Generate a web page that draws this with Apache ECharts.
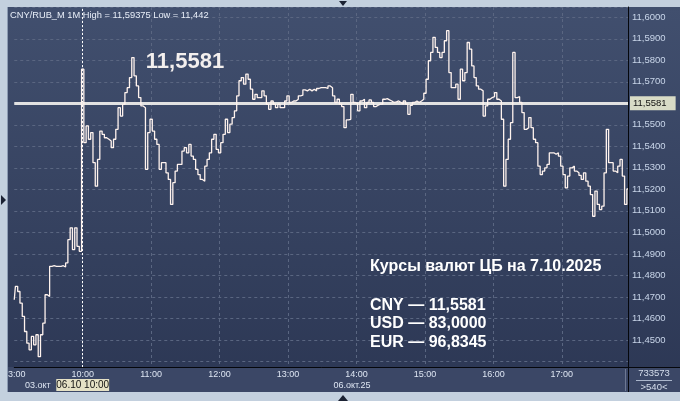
<!DOCTYPE html>
<html><head><meta charset="utf-8">
<script src="https://cdn.jsdelivr.net/npm/echarts@6/dist/echarts.min.js"></script>
<style>html,body{margin:0;padding:0;background:#c3d0de;}#c{width:680px;height:401px;}</style>
</head><body><div id="c"></div>
<script>
// ---- data ----
const hourLabels = ['23:00','10:00','11:00','12:00','13:00','14:00','15:00','16:00','17:00'];
const stepMinutes = 2;
const prices = [
11.4687,11.4749,11.4725,11.4671,11.4609,11.4539,11.4485,11.4454,11.4516,11.4477,
11.4524,11.4422,11.4524,11.4578,11.4710,11.4702,11.4842,11.4845,11.4842,11.4842,
11.4842,11.4845,11.4839,11.4858,11.4966,11.5021,11.4920,11.5021,11.4935,11.4912,
11.5759,11.5417,11.5495,11.5433,11.5464,11.5324,11.5215,11.5339,11.5471,11.5456,
11.5440,11.5433,11.5425,11.5394,11.5433,11.5479,11.5580,11.5541,11.5596,11.5650,
11.5673,11.5720,11.5813,11.5728,11.5681,11.5627,11.5588,11.5580,11.5293,11.5464,
11.5526,11.5471,11.5433,11.5409,11.5293,11.5324,11.5324,11.5277,11.5246,11.5130,
11.5231,11.5285,11.5316,11.5316,11.5378,11.5394,11.5370,11.5409,11.5355,11.5339,
11.5293,11.5269,11.5246,11.5238,11.5308,11.5339,11.5370,11.5433,11.5456,11.5386,
11.5370,11.5417,11.5456,11.5526,11.5464,11.5503,11.5534,11.5565,11.5635,11.5705,
11.5720,11.5689,11.5736,11.5712,11.5666,11.5619,11.5642,11.5627,11.5627,11.5658,
11.5635,11.5596,11.5572,11.5611,11.5596,11.5580,11.5596,11.5580,11.5580,11.5611,
11.5635,11.5604,11.5611,11.5611,11.5619,11.5635,11.5638,11.5663,11.5658,11.5666,
11.5658,11.5666,11.5658,11.5669,11.5673,11.5673,11.5673,11.5669,11.5681,11.5673,
11.5635,11.5604,11.5619,11.5596,11.5585,11.5487,11.5523,11.5526,11.5642,11.5604,
11.5600,11.5565,11.5611,11.5619,11.5580,11.5604,11.5616,11.5604,11.5585,11.5591,
11.5596,11.5596,11.5619,11.5622,11.5616,11.5611,11.5604,11.5607,11.5611,11.5604,
11.5596,11.5611,11.5596,11.5549,11.5591,11.5604,11.5611,11.5604,11.5611,11.5619,
11.5647,11.5712,11.5798,11.5837,11.5907,11.5860,11.5837,11.5813,11.5837,11.5891,
11.5938,11.5743,11.5673,11.5673,11.5689,11.5619,11.5759,11.5705,11.5743,11.5883,
11.5852,11.5774,11.5720,11.5681,11.5666,11.5658,11.5541,11.5588,11.5619,11.5627,
11.5631,11.5650,11.5619,11.5611,11.5526,11.5215,11.5339,11.5433,11.5510,11.5837,
11.5627,11.5631,11.5604,11.5557,11.5479,11.5487,11.5534,11.5487,11.5433,11.5417,
11.5308,11.5269,11.5285,11.5300,11.5316,11.5370,11.5370,11.5363,11.5370,11.5355,
11.5308,11.5269,11.5207,11.5262,11.5300,11.5308,11.5285,11.5277,11.5265,11.5246,
11.5277,11.5238,11.5215,11.5176,11.5075,11.5192,11.5130,11.5106,11.5122,11.5277,
11.5479,11.5324,11.5324,11.5285,11.5277,11.5308,11.5339,11.5262,11.5130,11.5202
];
const cbRate = 11.5581;
const lastPrice = 11.5202;
const headerText = 'CNY/RUB_M 1M High = 11,59375 Low = 11,442';
const cbTitle = 'Курсы валют ЦБ на 7.10.2025';
const cbLines = ['CNY — 11,5581', 'USD — 83,0000', 'EUR — 96,8345'];
const crossLabel = '06.10 10:00';
const dateLabels = ['03.окт', '06.окт.25'];
const footerTop = '733573', footerBottom = '>540<';
const yMin = 11.4374, yMax = 11.6048;

// ---- build ----
const categories = prices.map((_, i) => {
  const m = i * stepMinutes;
  if (m < 60) return '23:' + String(m).padStart(2, '0');
  const t = 600 + m - 60;
  return String(Math.floor(t / 60)).padStart(2, '0') + ':' + String(t % 60).padStart(2, '0');
});
const fmt = v => v.toFixed(4).replace('.', ',');
const onGrid = v => Math.abs(v * 100 - Math.round(v * 100)) < 1e-6;
const FONT = '"Liberation Sans", Arial, sans-serif';
const hourIdx = i => i % 30 === 0;

const chart = echarts.init(document.getElementById('c'), null, {renderer: 'canvas'});
const darkGrad = new echarts.graphic.LinearGradient(0, 0, 0, 1, [
  {offset: 0, color: '#414f6e'}, {offset: 1, color: '#2c3754'}]);
const txt = (x, y, text, font, fill, align) => ({
  type: 'text', z: 60, style: {x, y, text, font, fill, align: align || 'left', verticalAlign: 'middle'}
});

chart.setOption({
  animation: false,
  backgroundColor: '#c3d0de',
  grid: {left: 8, right: 52, top: 7, bottom: 34},
  xAxis: {
    type: 'category', data: categories, boundaryGap: false,
    axisLine: {show: true, lineStyle: {color: '#05070c', width: 1}},
    axisTick: {show: false},
    axisLabel: {interval: i => hourIdx(i), formatter: (v, i) => hourLabels[Math.round(i / 30)],
      color: '#dde5f2', fontSize: 9, fontFamily: FONT, margin: 3, showMinLabel: true,
      alignMinLabel: 'center'},
    splitLine: {show: true, interval: i => hourIdx(i) && i > 0,
      lineStyle: {color: '#5a6681', type: [3, 3], width: 1}}
  },
  yAxis: {
    type: 'value', position: 'right', min: yMin, max: yMax, splitNumber: 17,
    axisLine: {show: true, lineStyle: {color: '#05070c'}},
    axisTick: {show: false},
    axisLabel: {formatter: v => (onGrid(v) && v > 11.445) ? fmt(v) : '',
      color: '#c9d6ea', fontSize: 9.5, fontFamily: FONT, margin: 4},
    splitLine: {show: true, lineStyle: {color: '#5a6681', type: [3, 3], width: 1}}
  },
  series: [{
    type: 'line', data: prices, symbol: 'none', showSymbol: false, z: 5, step: 'middle',
    lineStyle: {color: '#fff3ee', width: 1.3},
    markLine: {
      silent: true, symbol: ['none', 'none'], animation: false,
      data: [
        {xAxis: categories[30], lineStyle: {color: '#ffffff', type: [2, 2], width: 1},
          label: {show: true, position: 'start', formatter: crossLabel, backgroundColor: '#e5e1c5',
            color: '#111111', fontSize: 10, fontFamily: FONT, padding: [1, 0, 1, 0], distance: 12}},
        {yAxis: cbRate, lineStyle: {color: '#e2e2e2', width: 3, type: 'solid'},
          label: {show: true, position: 'end', formatter: fmt(cbRate), backgroundColor: '#d8dbc6',
            color: '#111111', fontSize: 9.5, fontFamily: FONT, padding: [2, 9, 2, 3], distance: 2}},
        {yAxis: lastPrice, lineStyle: {opacity: 0, width: 0},
          label: {show: true, position: 'end', formatter: fmt(lastPrice), backgroundColor: '#c6cdd9',
            color: '#111111', fontSize: 9.5, fontFamily: FONT, padding: [2, 9, 2, 3], distance: 2}}
      ]
    }
  }],
  graphic: [
    {type: 'rect', z: -10, shape: {x: 8, y: 7, width: 672, height: 385}, style: {fill: darkGrad}},
    {type: 'rect', z: -9, shape: {x: 8, y: 367, width: 672, height: 25}, style: {fill: '#3b4766'}},
    {type: 'line', z: 40, shape: {x1: 628, y1: 367.5, x2: 680, y2: 367.5}, style: {stroke: '#05070c', lineWidth: 1}},
    {type: 'line', z: 40, shape: {x1: 628.5, y1: 367, x2: 628.5, y2: 392}, style: {stroke: '#05070c', lineWidth: 1}},
    {type: 'line', z: 40, shape: {x1: 625.5, y1: 369, x2: 625.5, y2: 391}, style: {stroke: '#6d7893', lineWidth: 1}},
    {type: 'rect', z: 50, shape: {x: 0, y: 0, width: 8, height: 401}, style: {fill: '#c3d0de'}},
    {type: 'line', z: 51, shape: {x1: 7.5, y1: 7, x2: 7.5, y2: 392}, style: {stroke: '#8d9cb3', lineWidth: 1}},
    {type: 'polygon', z: 52, shape: {points: [[1, 195], [1, 205], [6, 200]]}, style: {fill: '#1b2233'}},
    {type: 'polygon', z: 52, shape: {points: [[339, 1], [347, 1], [343, 6]]}, style: {fill: '#1b2233'}},
    {type: 'polygon', z: 52, shape: {points: [[338, 401], [348, 401], [343, 395]]}, style: {fill: '#1b2233'}},
    txt(10, 15, headerText, '9.3px ' + FONT, '#e8eef8'),
    txt(185, 62, fmt(cbRate), 'bold 22px ' + FONT, '#f3efee', 'center'),
    txt(370, 267, cbTitle, 'bold 16px ' + FONT, '#ffffff'),
    txt(370, 305.5, cbLines[0], 'bold 16px ' + FONT, '#ffffff'),
    txt(370, 324, cbLines[1], 'bold 16px ' + FONT, '#ffffff'),
    txt(370, 342.5, cbLines[2], 'bold 16px ' + FONT, '#ffffff'),
    txt(25, 386, dateLabels[0], '9px ' + FONT, '#dde5f2'),
    txt(352, 386, dateLabels[1], '9px ' + FONT, '#dde5f2', 'center'),
    txt(654, 373, footerTop, '9.5px ' + FONT, '#d5deec', 'center'),
    {type: 'line', z: 60, shape: {x1: 636, y1: 380.5, x2: 672, y2: 380.5}, style: {stroke: '#aab6cb', lineWidth: 1}},
    txt(654, 387, footerBottom, '9.5px ' + FONT, '#d5deec', 'center')
  ]
});
</script>
</body></html>
